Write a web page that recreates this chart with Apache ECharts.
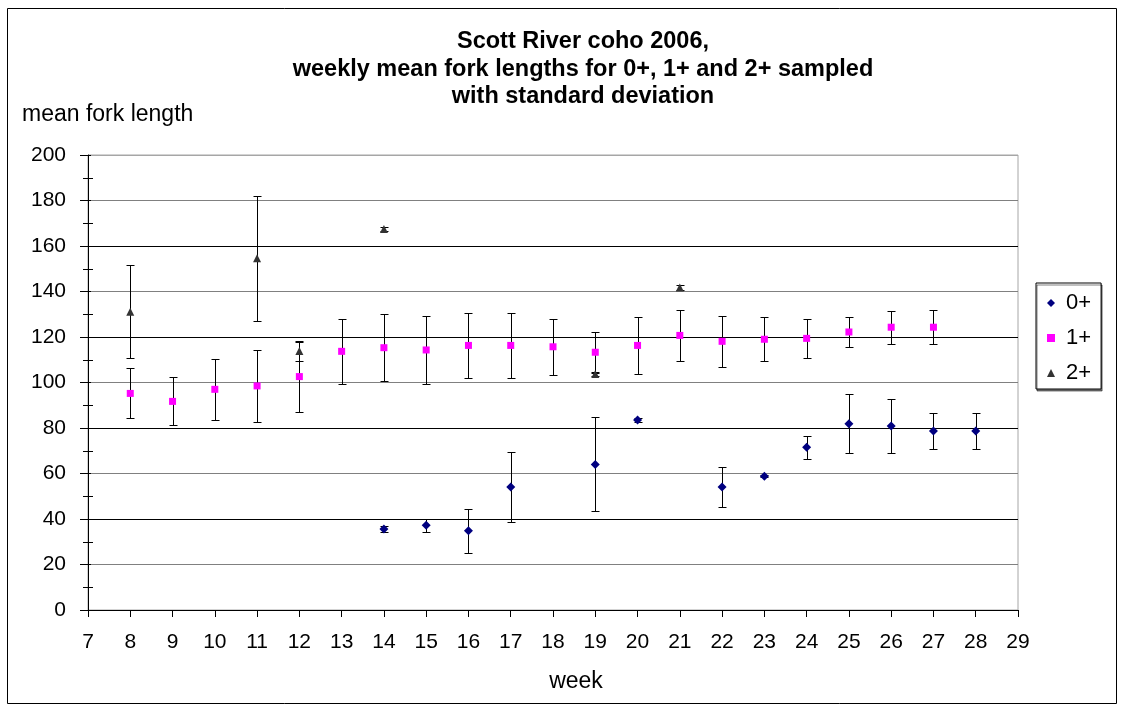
<!DOCTYPE html>
<html><head><meta charset="utf-8">
<script src="https://cdn.jsdelivr.net/npm/echarts@6/dist/echarts.min.js"></script>
<style>html,body{margin:0;padding:0;background:#fff}#c{width:1136px;height:711px}</style>
</head><body><div id="c"></div>
<script>
// ---- data ----
const titleLines = ['Scott River coho 2006,', 'weekly mean fork lengths for 0+, 1+ and 2+ sampled', 'with standard deviation'];
const yAxisName = 'mean fork length';
const xAxisName = 'week';
const seriesNames = ['0+', '1+', '2+'];

const weeks0 = [14, 15, 16, 17, 19, 20, 22, 23, 24, 25, 26, 27, 28];
const mean0  = [35.6, 37.2, 34.8, 54.1, 64.0, 83.5, 54.1, 58.8, 71.5, 81.9, 80.9, 78.7, 78.7];
const sd0    = [1.3, 2.7, 9.7, 15.5, 20.7, 1.0, 8.7, 0.4, 5.2, 12.9, 11.9, 8.1, 8.1];

const weeks1 = [8, 9, 10, 11, 12, 13, 14, 15, 16, 17, 18, 19, 20, 21, 22, 23, 24, 25, 26, 27];
const mean1  = [95.2, 91.7, 97.0, 98.5, 102.6, 113.7, 115.3, 114.3, 116.3, 116.3, 115.7, 113.3, 116.3, 120.7, 118.1, 119.0, 119.4, 122.2, 124.3, 124.3];
const sd1    = [11.0, 10.5, 13.5, 15.7, 15.4, 14.2, 14.8, 15.0, 14.2, 14.2, 12.3, 9.0, 12.4, 11.2, 11.3, 9.7, 8.7, 6.5, 7.2, 7.4];

const weeks2 = [8, 11, 12, 14, 19, 21];
const mean2  = [131.1, 154.6, 113.8, 167.5, 103.7, 141.8];
const sd2    = [20.5, 27.5, 4.4, 1.0, 0.8, 1.0];

const xMin = 7, xMax = 29, xStep = 1;
const yMin = 0, yMax = 200, yStep = 20;

// ---- chart ----
const FONT = 'Arial, "Liberation Sans", sans-serif';
const chart = echarts.init(document.getElementById('c'), null, {renderer: 'canvas'});

function rows(w, m, s) { return w.map((x, i) => [x, m[i], s[i]]); }

function errorBarItem(params, api) {
  const x = api.value(0), m = api.value(1), s = api.value(2);
  const top = api.coord([x, m + s]);
  const bot = api.coord([x, m - s]);
  const px = Math.round(top[0]) + 0.5;
  const ty = Math.round(top[1]) + 0.5;
  const by = Math.round(bot[1]) + 0.5;
  const hw = 4;
  const st = {stroke: '#000', lineWidth: 1};
  return {type: 'group', children: [
    {type: 'line', shape: {x1: px, y1: ty, x2: px, y2: by}, style: st},
    {type: 'line', shape: {x1: px - hw, y1: ty, x2: px + hw, y2: ty}, style: st},
    {type: 'line', shape: {x1: px - hw, y1: by, x2: px + hw, y2: by}, style: st}
  ]};
}

const markerColors = ['#000080', '#FF00FF', '#333333'];
const markerSymbols = ['diamond', 'rect', 'triangle'];
const markerSizes = [9, 7, 8];
const sets = [rows(weeks0, mean0, sd0), rows(weeks1, mean1, sd1), rows(weeks2, mean2, sd2)];

const series = [];
sets.forEach((d, i) => {
  series.push({
    type: 'custom', name: seriesNames[i] + ' sd', data: d, renderItem: errorBarItem,
    encode: {x: 0, y: 1}, silent: true, z: 2, clip: false
  });
});
sets.forEach((d, i) => {
  series.push({
    type: 'scatter', name: seriesNames[i], data: d.map(r => [r[0], r[1]]),
    symbol: markerSymbols[i], symbolSize: markerSizes[i],
    itemStyle: {color: markerColors[i], opacity: 1}, z: 5, silent: true
  });
});

const gridLineColors = ['#000', '#808080', '#000', '#808080', '#000', '#808080', '#000', '#808080', '#000', '#808080', '#a6a6a6'];

chart.setOption({
  animation: false,
  backgroundColor: '#fff',
  grid: {left: 88, right: 118, top: 155, bottom: 101, containLabel: false, outerBoundsMode: 'none',
         show: true, borderColor: '#a6a6a6', borderWidth: 1, backgroundColor: 'transparent'},
  xAxis: {
    type: 'value', min: xMin, max: xMax, interval: xStep,
    axisLine: {show: true, onZero: false, lineStyle: {color: '#000', width: 1}},
    axisTick: {show: true, inside: false, length: 7, lineStyle: {color: '#000'}},
    axisLabel: {color: '#000', fontFamily: FONT, fontSize: 21, margin: 22, showMinLabel: true, showMaxLabel: true},
    splitLine: {show: false}
  },
  yAxis: [{
    type: 'value', min: yMin, max: yMax, interval: yStep,
    axisLine: {show: true, lineStyle: {color: '#000', width: 1}},
    axisTick: {show: true, inside: false, length: 8, lineStyle: {color: '#000'}},
    minorTick: {show: true, splitNumber: 2, length: 5, lineStyle: {color: '#000'}},
    axisLabel: {color: '#000', fontFamily: FONT, fontSize: 21, margin: 22},
    splitLine: {show: true, lineStyle: {color: gridLineColors, width: 1}}
  }, {
    type: 'value', min: yMin, max: yMax, interval: yStep, position: 'left', offset: 0,
    axisLine: {show: false},
    axisTick: {show: true, inside: true, length: 3, lineStyle: {color: '#000'}},
    minorTick: {show: true, splitNumber: 2, length: 5, lineStyle: {color: '#000'}},
    axisLabel: {show: false},
    splitLine: {show: false}
  }],
  legend: {
    data: seriesNames.map((n, i) => ({name: n, icon: markerSymbols[i]})),
    orient: 'vertical', left: 1036, top: 283,
    itemWidth: 8, itemHeight: 8, itemGap: 13,
    padding: [9, 10, 5, 11],
    borderColor: '#000', borderWidth: 1, backgroundColor: '#fff',
    shadowColor: 'rgba(0,0,0,0.5)', shadowOffsetX: 1, shadowOffsetY: 2, shadowBlur: 0,
    selectedMode: false,
    textStyle: {color: '#000', fontFamily: FONT, fontSize: 22, lineHeight: 20, padding: [0, 0, 0, 6]}
  },
  graphic: [
    {type: 'rect', shape: {x: 7.5, y: 8.5, width: 1109, height: 695}, style: {fill: 'none', stroke: '#000', lineWidth: 1}, z: -10, silent: true},
    {type: 'text', x: 583, y: 28, style: {text: titleLines.join('\n'), fontFamily: FONT, fontSize: 23.5, fontWeight: 'bold', fill: '#000', align: 'center', verticalAlign: 'top', lineHeight: 27.5}, silent: true},
    {type: 'text', x: 22, y: 115, style: {text: yAxisName, fontFamily: FONT, fontSize: 23, fill: '#000', align: 'left', verticalAlign: 'middle'}, silent: true},
    {type: 'text', x: 576, y: 682, style: {text: xAxisName, fontFamily: FONT, fontSize: 23, fill: '#000', align: 'center', verticalAlign: 'middle'}, silent: true}
  ],
  series: series
});
</script>
</body></html>
